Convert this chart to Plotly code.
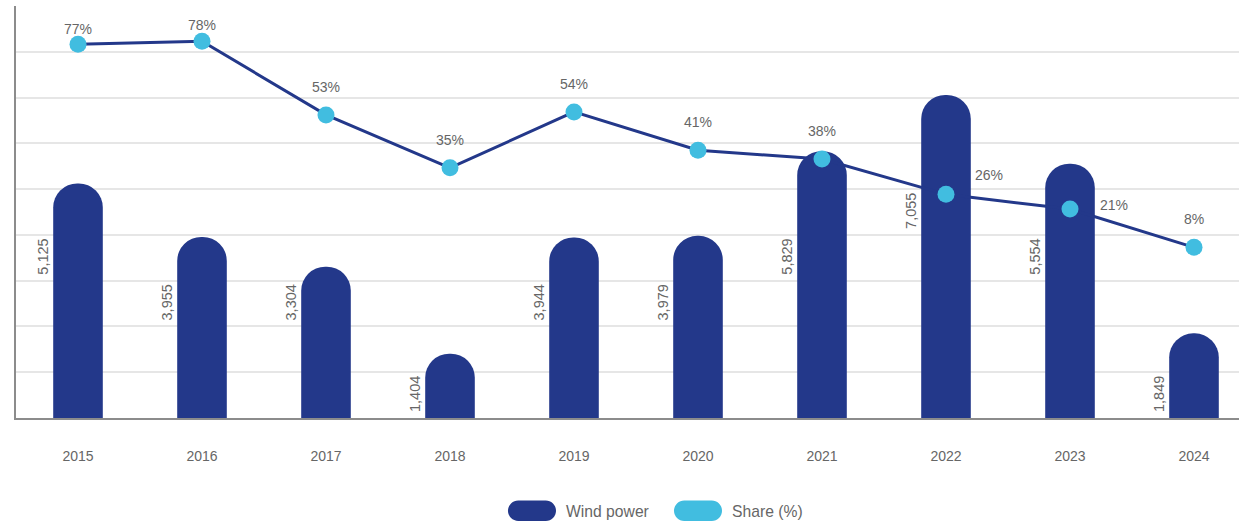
import plotly.graph_objects as go

years = ["2015", "2016", "2017", "2018", "2019", "2020", "2021", "2022", "2023", "2024"]
wind_power = [5125, 3955, 3304, 1404, 3944, 3979, 5829, 7055, 5554, 1849]
share_pct = [77, 78, 53, 35, 54, 41, 38, 26, 21, 8]

BAR = "#23388a"
DOT = "#41bde0"
TXT = "#666666"
FONT = "Arial, Liberation Sans, sans-serif"

W, H = 1239, 524
ML, MR, MT, MB = 16, 0, 6, 106
PW, PH = W - ML - MR, H - MT - MB

x_idx = list(range(len(years)))

fig = go.Figure()
fig.add_trace(go.Bar(
    x=x_idx, y=wind_power, name="Wind power", width=0.40,
    marker=dict(color=BAR, cornerradius="50%", line=dict(width=0)),
    hoverinfo="skip", yaxis="y"))
fig.add_trace(go.Scatter(
    x=x_idx, y=share_pct, name="Share (%)", mode="lines+markers",
    line=dict(color=BAR, width=3),
    marker=dict(color=DOT, size=17, line=dict(width=0)),
    hoverinfo="skip", yaxis="y2"))

annotations = []
# bar value labels (rotated, left of bar)
for i, v in enumerate(wind_power):
    base = max(0, int(0.0007 * v - 0.299)) * 1000
    annotations.append(dict(
        x=i, y=base, xref="x", yref="y", text=f"{v:,}", showarrow=False,
        textangle=-90, xanchor="center", yanchor="bottom", xshift=-35, yshift=4,
        font=dict(family=FONT, size=14.5, color=TXT)))

# percent labels
offsets = {0: (0, 15), 1: (0, 16), 7: (43, 19), 8: (44, 4)}
for i, p in enumerate(share_pct):
    dx, dy = offsets.get(i, (0, 28))
    annotations.append(dict(
        x=i, y=p, xref="x", yref="y2", text=f"{p}%", showarrow=False,
        xanchor="center", yanchor="middle", xshift=dx, yshift=dy,
        font=dict(family=FONT, size=14, color=TXT)))

# custom legend
def px2paper(px, py):
    return (px - ML) / PW, (H - MB - py) / PH

def pill(x0, y0, x1, y1):
    r = (y1 - y0) / 2
    k = 0.5523 * r
    def P(x, y):
        a, b = px2paper(x, y)
        return f"{a:.6f},{b:.6f}"
    d = f"M {P(x0 + r, y0)} L {P(x1 - r, y0)} "
    d += f"C {P(x1 - r + k, y0)} {P(x1, y0 + r - k)} {P(x1, y0 + r)} "
    d += f"C {P(x1, y0 + r + k)} {P(x1 - r + k, y1)} {P(x1 - r, y1)} "
    d += f"L {P(x0 + r, y1)} "
    d += f"C {P(x0 + r - k, y1)} {P(x0, y0 + r + k)} {P(x0, y0 + r)} "
    d += f"C {P(x0, y0 + r - k)} {P(x0 + r - k, y0)} {P(x0 + r, y0)} Z"
    return d

shapes = []
legend_items = [("Wind power", BAR, 508, 564), ("Share (%)", DOT, 674, 730)]
for label, col, sx, tx in legend_items:
    shapes.append(dict(type="path", xref="paper", yref="paper",
                       path=pill(sx, 500.5, sx + 48, 521),
                       fillcolor=col, line=dict(width=0), layer="above"))
    ax, ay = px2paper(tx, 511)
    annotations.append(dict(x=ax, y=ay, xref="paper", yref="paper", text=label,
                            showarrow=False, xanchor="left", yanchor="middle",
                            font=dict(family=FONT, size=15.7, color=TXT)))

cat_w = 124.0
x_hi = -0.5 + PW / cat_w

fig.update_layout(
    width=W, height=H, margin=dict(l=ML, r=MR, t=MT, b=MB, pad=0),
    paper_bgcolor="white", plot_bgcolor="white", showlegend=False,
    font=dict(family=FONT, size=14, color=TXT),
    xaxis=dict(range=[-0.5, x_hi], tickmode="array", tickvals=x_idx, ticktext=years,
               showgrid=False, zeroline=False, showline=True, linecolor="#8c8c8c",
               linewidth=2, ticks="", ticklabelstandoff=24,
               tickfont=dict(family=FONT, size=14, color=TXT)),
    yaxis=dict(range=[0, 9000], dtick=1000, showticklabels=False, showgrid=True,
               gridcolor="#e6e6e6", gridwidth=2, zeroline=False, showline=True,
               linecolor="#8c8c8c", linewidth=2, ticks=""),
    yaxis2=dict(range=[-50, 90], overlaying="y", side="right", showgrid=False,
                showticklabels=False, zeroline=False, showline=False),
    annotations=annotations, shapes=shapes,
)

fig.write_html("out.html", config={"displayModeBar": False},
               post_script="document.body.style.margin='0';")
